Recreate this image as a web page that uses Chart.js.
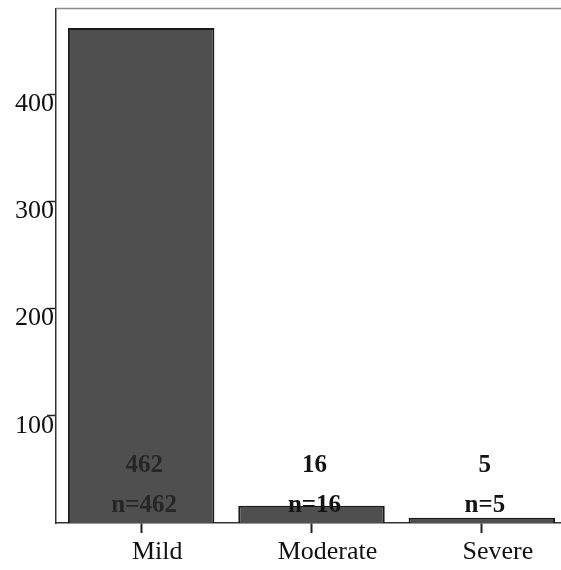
<!DOCTYPE html>
<html>
<head>
<meta charset="utf-8">
<script src="https://cdn.jsdelivr.net/npm/chart.js@4/dist/chart.umd.min.js"></script>
<style>
  html, body { margin: 0; padding: 0; background: #fff; overflow: hidden; }
  #wrap { width: 570px; height: 570px; }
</style>
</head>
<body>
<div id="wrap"><canvas id="myChart" width="570" height="570"></canvas></div>
<script>
const categories = ['Mild', 'Moderate', 'Severe'];
const counts = [462, 16, 5];
const yTicks = [100, 200, 300, 400];

const serif = "'Liberation Serif', 'Times New Roman', serif";

// value + n= labels sitting near the bottom of each category
const countLabels = {
    id: 'countLabels',
    afterDatasetsDraw(chart) {
        let ctx = chart.ctx;
        let x = chart.scales.x;
        let bottom = chart.chartArea.bottom;
        ctx.save();
        ctx.font = 'bold 25px ' + serif;
        ctx.textAlign = 'center';
        ctx.textBaseline = 'middle';
        counts.forEach((c, i) => {
            let px = x.getPixelForValue(i) + 3;
            ctx.fillStyle = i === 0 ? '#262626' : '#131313';
            ctx.fillText(String(c), px, bottom - 57);
            ctx.fillText('n=' + c, px, bottom - 17);
        });
        ctx.restore();
    }
};

// faint frame line along the top of the plot
const topLine = {
    id: 'topLine',
    afterDraw(chart) {
        let a = chart.chartArea;
        let ctx = chart.ctx;
        ctx.save();
        ctx.strokeStyle = '#8a8a8a';
        ctx.lineWidth = 1.5;
        ctx.beginPath();
        ctx.moveTo(a.left, a.top);
        ctx.lineTo(chart.width, a.top);
        ctx.stroke();
        ctx.restore();
    }
};

new Chart(document.getElementById('myChart').getContext('2d'), {
    type: 'bar',
    data: {
        labels: categories,
        datasets: [{
            data: counts,
            backgroundColor: '#4f4f4f',
            borderColor: '#1a1a1a',
            borderWidth: 2,
            barPercentage: 0.86,
            categoryPercentage: 1
        }]
    },
    options: {
        responsive: false,
        animation: false,
        layout: { padding: { top: 7, right: 3, left: 0, bottom: 0 } },
        plugins: { legend: { display: false }, tooltip: { enabled: false } },
        scales: {
            x: {
                afterFit: s => { s.height = 47; },
                border: { display: true, color: '#333', width: 1.5 },
                grid: { offset: false, drawOnChartArea: false, tickLength: 10, tickColor: '#222', tickWidth: 2 },
                ticks: { color: '#111', font: { family: serif, size: 26 }, padding: 4, labelOffset: 16 }
            },
            y: {
                min: 0,
                max: 480,
                afterFit: s => { s.width = 56; },
                afterBuildTicks: s => { s.ticks = yTicks.map(v => ({ value: v })); },
                border: { display: true, color: '#333', width: 1.5 },
                grid: { drawOnChartArea: false, tickLength: 9, tickColor: '#222', tickWidth: 1.5 },
                ticks: { color: '#111', font: { family: serif, size: 26 }, padding: -7, labelOffset: 10 }
            }
        }
    },
    plugins: [countLabels, topLine]
});
</script>
</body>
</html>
